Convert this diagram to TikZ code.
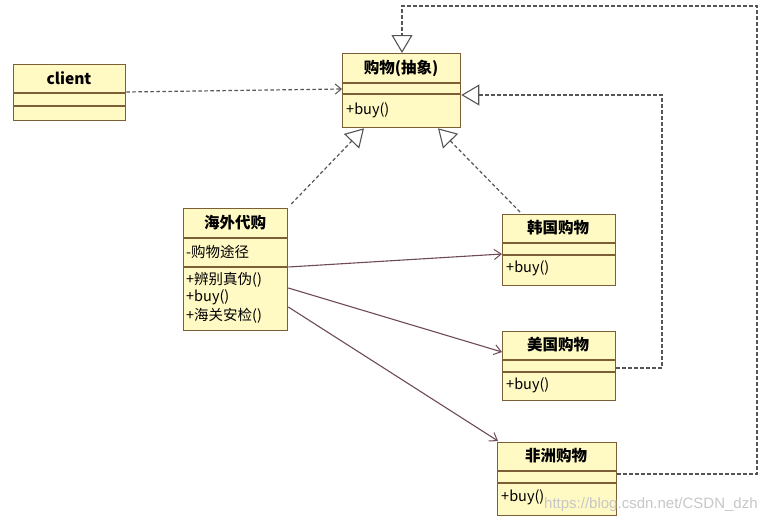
\documentclass[tikz,border=0pt]{standalone}
\usepackage{fontspec}
\setmainfont{Noto Sans CJK SC}
\newfontfamily\wmfont{Liberation Sans}
\usetikzlibrary{arrows.meta,calc}

\definecolor{boxfill}{RGB}{255,249,196}
\definecolor{boxline}{RGB}{125,95,55}
\definecolor{depline}{RGB}{85,85,85}
\definecolor{assocline}{RGB}{110,75,85}

\tikzset{
  cls/.style={draw=boxline, fill=boxfill, line width=1.3pt, rectangle, inner sep=0pt},
  sep/.style={draw=boxline, line width=1.1pt},
  title/.style={font=\bfseries\fontsize{15.5}{17}\selectfont, inner sep=0pt, anchor=center},
  member/.style={font=\fontsize{14.5}{16}\selectfont, inner sep=0pt, anchor=west},
  dep/.style={draw=depline, line width=1.2pt, dash pattern=on 3.5pt off 2.5pt},
  realize/.style={dep, -{Triangle[open, length=18pt, width=21pt, line width=1.1pt, fill=white, sep=0pt]}},
  uses/.style={dep, -{Straight Barb[length=6pt, width=10pt, line width=1pt]}},
  assoc/.style={draw=assocline, line width=1.1pt, -{Straight Barb[length=7pt, width=10pt, line width=1pt]}},
}

\newcommand\umlclass[7]{%
  \node[cls, minimum width=#4pt, minimum height=#5pt, anchor=north west] (#1) at (#2,#3) {};
  \draw[sep] ($(#1.north west)+(0,#6)$) -- ($(#1.north east)+(0,#6)$);
  \draw[sep] ($(#1.north west)+(0,#7)$) -- ($(#1.north east)+(0,#7)$);
}

\begin{document}
\begin{tikzpicture}[x=1pt, y=-1pt]
\fill[white] (0,0) rectangle (777,525);
\useasboundingbox (0,0) rectangle (777,525);

% classes
\umlclass{client}{13}{64}{112}{56}{29}{42}
\umlclass{abs}{342}{53}{118}{74}{30}{41}
\umlclass{haiwai}{183}{208}{104}{122}{30}{59}
\umlclass{han}{502}{214}{113}{71}{29}{41}
\umlclass{mei}{502}{331}{113}{69}{29}{41}
\umlclass{fei}{497}{442}{119}{73}{29}{41}

% texts
\node[title] (client-t) at (69,78) {client};
\node[title] (abs-t) at (401,68) {购物(抽象)};
\node[member] (abs-m) at (346,110) {+buy()};
\node[title] (haiwai-t) at (235,223) {海外代购};
\node[member] (haiwai-a) at (186,252) {-购物途径};
\node[member] (haiwai-m1) at (186,280) {+辨别真伪()};
\node[member] (haiwai-m2) at (186,297) {+buy()};
\node[member] (haiwai-m3) at (186,316) {+海关安检()};
\node[title] (han-t) at (558,228) {韩国购物};
\node[member] (han-m) at (506,268) {+buy()};
\node[title] (mei-t) at (558,345) {美国购物};
\node[member] (mei-m) at (506,385) {+buy()};
\node[title] (fei-t) at (556,456) {非洲购物};
\node[member] (fei-m) at (501,497) {+buy()};

% dependency client -> abstract
\draw[uses] ($(client.north east)+(0,28)$) -- ($(abs.north west)+(0,36)$);

% realizations
\draw[realize] ($(haiwai.north east)+(3,-4)$) -- ($(abs.south west)+(22,0)$);
\draw[realize] ($(han.north west)+(18,-2)$) -- ($(abs.south west)+(96,0)$);
\coordinate (mr) at (662,95);
\draw[realize] ($(mei.north east)+(0,37)$) -| (mr) -- ($(abs.north east)+(0,42)$);
\coordinate (fr) at (757,6);
\draw[realize] ($(fei.north east)+(0,32)$) -| (fr) -| ($(abs.north west)+(60,0)$);

% associations
\draw[assoc] ($(haiwai.north east)+(0,59)$) -- ($(han.north west)+(0,40)$);
\draw[assoc] ($(haiwai.north east)+(0,80)$) -- ($(mei.north west)+(0,21)$);
\draw[assoc] ($(haiwai.north east)+(0,99)$) -- ($(fei.north west)+(1,-1)$);

% watermark
\node[font=\wmfont\fontsize{15}{17}\selectfont, text=black!22, inner sep=0pt, anchor=west] (wm) at (544,505) {https://blog.csdn.net/CSDN\_dzh};
\end{tikzpicture}
\end{document}
